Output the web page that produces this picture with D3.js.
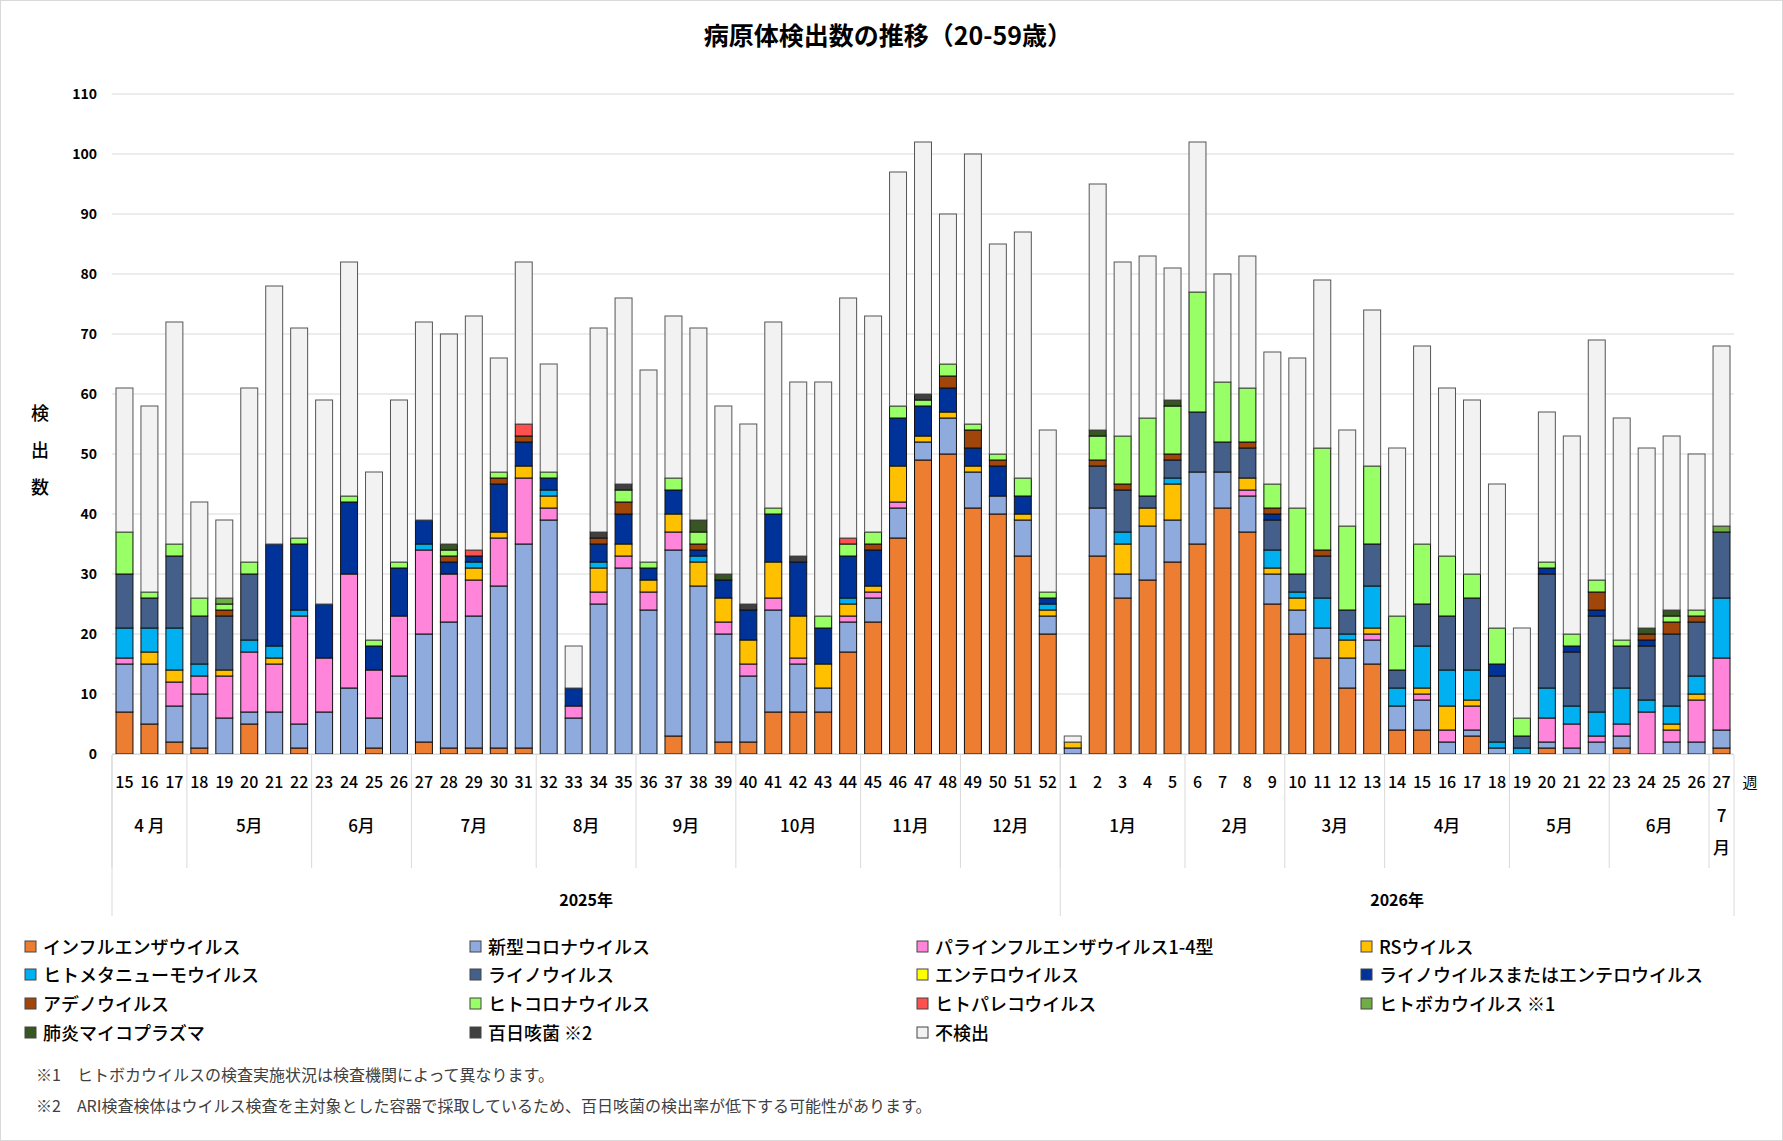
<!DOCTYPE html>
<html><head><meta charset="utf-8">
<script src="https://cdn.jsdelivr.net/npm/d3@7/dist/d3.min.js"></script>
<style>body{margin:0;background:#fff}text{font-family:"Noto Sans CJK JP","Noto Sans",sans-serif}</style>
</head><body><svg id="c" width="1783" height="1141"></svg>
<script>
const weeks=[15,16,17,18,19,20,21,22,23,24,25,26,27,28,29,30,31,32,33,34,35,36,37,38,39,40,41,42,43,44,45,46,47,48,49,50,51,52,
1,2,3,4,5,6,7,8,9,10,11,12,13,14,15,16,17,18,19,20,21,22,23,24,25,26,27];
const years=[{label:"2025年",from:0,to:37},{label:"2026年",from:38,to:64}];
const months=[{l:"4 月",f:0,t:2},{l:"5月",f:3,t:7},{l:"6月",f:8,t:11},{l:"7月",f:12,t:16},{l:"8月",f:17,t:20},{l:"9月",f:21,t:24},{l:"10月",f:25,t:29},{l:"11月",f:30,t:33},{l:"12月",f:34,t:37},
{l:"1月",f:38,t:42},{l:"2月",f:43,t:46},{l:"3月",f:47,t:50},{l:"4月",f:51,t:55},{l:"5月",f:56,t:59},{l:"6月",f:60,t:63},{l:"7\n月",f:64,t:64}];
const names=["インフルエンザウイルス","新型コロナウイルス","パラインフルエンザウイルス1-4型","RSウイルス","ヒトメタニューモウイルス","ライノウイルス","エンテロウイルス","ライノウイルスまたはエンテロウイルス","アデノウイルス","ヒトコロナウイルス","ヒトパレコウイルス","ヒトボカウイルス ※1","肺炎マイコプラズマ","百日咳菌 ※2","不検出"];
const colors=["#ED7D31","#8FAADC","#FF85DB","#FFC000","#00B0F0","#44608A","#FFFF00","#003399","#A0460A","#99FF66","#FF5050","#70AD47","#375623","#404040","#F2F2F2"];
const flu=[7,5,2,1,0,5,0,1,0,0,1,0, 2,1,1,1,1,0,0,0,0,0,3,0,2,2,7,7,7,17,22,36,49,50,41,40,33,20, 0,33,26,29,32,35,41,37,25,20,16,11,15,4,4,0,3,0,0,1,0,0,1,0,0,0,1];
const covid=[8,10,6,9,6,2,7,4,7,11,5,13, 18,21,22,27,34,39,6,25,31,24,31,28,18,11,17,8,4,5,4,5,3,6,6,3,6,3, 1,8,4,9,7,12,6,6,5,4,5,5,4,4,5,2,1,1,0,1,1,2,2,0,2,2,3];
const para=[1,0,4,3,7,10,8,18,9,19,8,10, 14,8,6,8,11,2,2,2,2,3,3,0,2,2,2,1,0,1,1,1,0,0,0,0,0,0, 0,0,0,0,0,0,0,1,0,0,0,0,1,0,1,2,4,0,0,4,4,1,2,7,2,7,12];
const rs=[0,2,2,0,1,0,1,0,0,0,0,0, 0,0,2,1,2,2,0,4,2,2,3,4,4,4,6,7,4,2,1,6,1,1,1,0,1,1, 1,0,5,3,6,0,0,2,1,2,0,3,1,0,1,4,1,0,0,0,0,0,0,0,1,1,0];
const hmpv=[5,4,7,2,0,2,2,1,0,0,0,0, 1,0,1,0,0,1,0,1,0,0,0,1,0,0,0,0,0,1,0,0,0,0,0,0,0,1, 0,0,2,0,1,0,0,0,3,1,5,1,7,3,7,6,5,1,1,5,3,4,6,2,3,3,10];
const rhino=[9,5,12,8,9,11,0,0,0,0,0,0, 0,0,0,0,0,0,0,0,0,0,0,0,0,0,0,0,0,0,0,0,0,0,0,0,0,0, 0,7,7,2,3,10,5,5,5,3,7,4,7,3,7,9,12,11,2,19,9,16,7,9,12,9,11];
const entero=[0,0,0,0,0,0,0,0,0,0,0,0, 0,0,0,0,0,0,0,0,0,0,0,0,0,0,0,0,0,0,0,0,0,0,0,0,0,0, 0,0,0,0,0,0,0,0,0,0,0,0,0,0,0,0,0,0,0,0,0,0,0,0,0,0,0];
const rhEnt=[0,0,0,0,0,0,17,11,9,12,4,8, 4,2,1,8,4,2,3,3,5,2,4,1,3,5,8,9,6,7,6,8,5,4,3,5,3,1, 0,0,0,0,0,0,0,0,1,0,0,0,0,0,0,0,0,2,0,1,1,1,0,1,0,0,0];
const adeno=[0,0,0,0,1,0,0,0,0,0,0,0, 0,1,0,1,1,0,0,1,2,0,0,1,0,0,0,0,0,0,1,0,0,2,3,1,0,0, 0,1,1,0,1,0,0,1,1,0,1,0,0,0,0,0,0,0,0,0,0,3,0,1,2,1,0];
const hcov=[7,1,2,3,1,2,0,1,0,1,1,1, 0,1,0,1,0,1,0,0,2,1,2,2,0,0,1,0,2,2,2,2,1,2,1,1,3,1, 0,4,8,13,8,20,10,9,4,11,17,14,13,9,10,10,4,6,3,1,2,2,1,0,1,1,0];
const parecho=[0,0,0,0,0,0,0,0,0,0,0,0, 0,0,1,0,2,0,0,0,0,0,0,0,0,0,0,0,0,1,0,0,0,0,0,0,0,0, 0,0,0,0,0,0,0,0,0,0,0,0,0,0,0,0,0,0,0,0,0,0,0,0,0,0,0];
const boca=[0,0,0,0,1,0,0,0,0,0,0,0, 0,0,0,0,0,0,0,0,0,0,0,0,0,0,0,0,0,0,0,0,0,0,0,0,0,0, 0,0,0,0,0,0,0,0,0,0,0,0,0,0,0,0,0,0,0,0,0,0,0,0,0,0,1];
const myco=[0,0,0,0,0,0,0,0,0,0,0,0, 0,1,0,0,0,0,0,0,0,0,0,2,1,0,0,0,0,0,0,0,0,0,0,0,0,0, 0,1,0,0,1,0,0,0,0,0,0,0,0,0,0,0,0,0,0,0,0,0,0,1,1,0,0];
const pert=[0,0,0,0,0,0,0,0,0,0,0,0, 0,0,0,0,0,0,0,1,1,0,0,0,0,1,0,1,0,0,0,0,1,0,0,0,0,0,0, 0,0,0,0,0,0,0,0,0,0,0,0,0,0,0,0,0,0,0,0,0,0,0,0,0,0].slice(0,65);
const none=[24,31,37,16,13,29,43,35,34,39,28,27, 33,35,39,19,27,18,7,34,31,32,27,32,28,30,31,29,39,40,36,39,42,25,45,35,41,27, 1,41,29,27,22,25,18,22,22,25,28,16,26,28,33,28,29,24,15,25,33,40,37,30,29,26,30];
const series=[flu,covid,para,rs,hmpv,rhino,entero,rhEnt,adeno,hcov,parecho,boca,myco,pert,none];
const yTicks=d3.range(0,111,10);

const svg=d3.select("#c");
svg.append("rect").attr("x",0.5).attr("y",0.5).attr("width",1782).attr("height",1140).attr("fill","#fff").attr("stroke","#d9d9d9");
const x=d3.scaleBand().domain(d3.range(65)).range([112,1734]).paddingInner(0.32).paddingOuter(0.16);
const y=d3.scaleLinear().domain([0,110]).range([754,94]);
const step=x.step(), left=112, right=1734;
const bx=i=>left+i*step;
svg.append("g").selectAll("line").data(yTicks).join("line").attr("x1",left).attr("x2",right)
 .attr("y1",d=>y(d)).attr("y2",d=>y(d)).attr("stroke","#d9d9d9");
svg.append("g").selectAll("text").data(yTicks).join("text").attr("x",97).attr("y",d=>y(d)+5)
 .attr("text-anchor","end").attr("font-size",14).attr("font-weight","bold").text(d=>d);
const rows=weeks.map((w,i)=>{const o={i};series.forEach((s,k)=>o["s"+k]=s[i]);return o;});
const stack=d3.stack().keys(series.map((s,k)=>"s"+k))(rows);
stack.forEach((layer,k)=>{
 svg.append("g").selectAll("rect").data(layer.filter(d=>d[1]>d[0])).join("rect")
  .attr("x",d=>x(d.data.i)).attr("width",x.bandwidth()).attr("y",d=>y(d[1])).attr("height",d=>y(d[0])-y(d[1]))
  .attr("fill",colors[k]).attr("stroke",k==14?"#555":"#111").attr("stroke-width",1);
});
svg.append("line").attr("x1",left).attr("x2",right).attr("y1",754.5).attr("y2",754.5).attr("stroke","#d9d9d9");
svg.append("g").selectAll("text").data(weeks).join("text").attr("x",(d,i)=>x(i)+x.bandwidth()/2).attr("y",788)
 .attr("text-anchor","middle").attr("font-size",16).attr("font-weight",500).text(d=>d);
svg.append("text").attr("x",1750).attr("y",788).attr("text-anchor","middle").attr("font-size",15).text("週");
// month separators
months.forEach(m=>{
 svg.append("line").attr("x1",bx(m.f)).attr("x2",bx(m.f)).attr("y1",755).attr("y2",868).attr("stroke","#d9d9d9");
 const cx=(bx(m.f)+bx(m.t+1))/2;
 const parts=m.l.split("\n");
 if(parts.length==1) svg.append("text").attr("x",cx).attr("y",832).attr("text-anchor","middle").attr("font-size",17).attr("font-weight",500).text(m.l);
 else parts.forEach((p,j)=>svg.append("text").attr("x",cx).attr("y",822+j*32).attr("text-anchor","middle").attr("font-size",17).attr("font-weight",500).text(p));
});
[left,bx(38),right].forEach(v=>svg.append("line").attr("x1",v).attr("x2",v).attr("y1",755).attr("y2",916).attr("stroke","#d9d9d9"));
years.forEach(yy=>svg.append("text").attr("x",(bx(yy.from)+bx(yy.to+1))/2).attr("y",906).attr("text-anchor","middle").attr("font-size",16).attr("font-weight","bold").text(yy.label));
// title & y label
svg.append("text").attr("x",888).attr("y",45).attr("text-anchor","middle").attr("font-size",25).attr("font-weight","bold").text("病原体検出数の推移（20-59歳）");
["検","出","数"].forEach((c,j)=>svg.append("text").attr("x",40).attr("y",420+j*37).attr("text-anchor","middle").attr("font-size",18).attr("font-weight",500).text(c));
// legend
const colX=[25,470,917,1361], rowY=[947,975,1004,1033];
names.forEach((n,k)=>{
 const cx=colX[k%4], cy=rowY[Math.floor(k/4)];
 svg.append("rect").attr("x",cx).attr("y",cy-6).attr("width",11).attr("height",11).attr("fill",colors[k]).attr("stroke","#444");
 svg.append("text").attr("x",cx+18).attr("y",cy+7).attr("font-size",18).attr("font-weight",500).text(n);
});
svg.append("text").attr("x",36).attr("y",1081).attr("font-size",16).attr("fill","#404040").text("※1　ヒトボカウイルスの検査実施状況は検査機関によって異なります。");
svg.append("text").attr("x",36).attr("y",1112).attr("font-size",16).attr("fill","#404040").text("※2　ARI検査検体はウイルス検査を主対象とした容器で採取しているため、百日咳菌の検出率が低下する可能性があります。");
</script></body></html>
